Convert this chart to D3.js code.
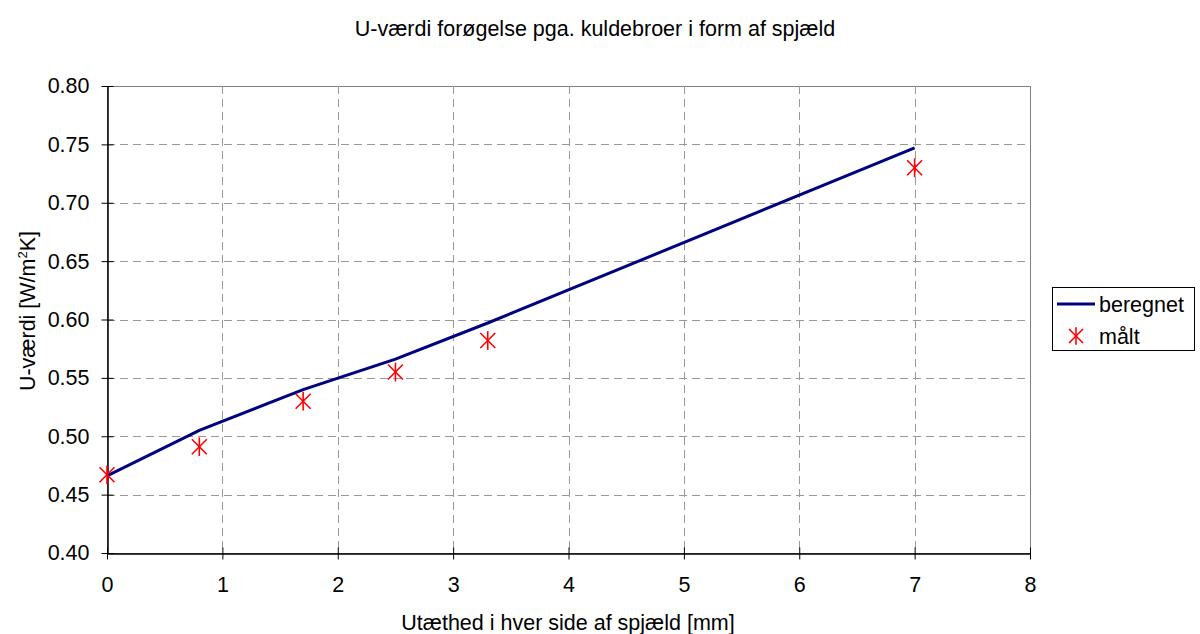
<!DOCTYPE html>
<html>
<head>
<meta charset="utf-8">
<script src="https://cdn.jsdelivr.net/npm/d3@7"></script>
<style>
  html, body { margin: 0; padding: 0; background: #fff; }
  svg { display: block; font-family: "Liberation Sans", Arial, sans-serif; }
</style>
</head>
<body>
<svg id="chart" width="1200" height="634"></svg>
<script>
// Gap width on each side of the damper [mm]
const gapMm = [0, 0.8, 1.7, 2.5, 3.3, 7];
// Calculated U-value [W/m²K]
const calculated = [0.466, 0.505, 0.540, 0.566, 0.597, 0.747];
// Measured U-value [W/m²K]
const measured = [0.467, 0.491, 0.530, 0.555, 0.582, 0.730];
const xTicks = [0, 1, 2, 3, 4, 5, 6, 7, 8];
const yTicks = [0.40, 0.45, 0.50, 0.55, 0.60, 0.65, 0.70, 0.75, 0.80];

const svg = d3.select("#chart");
const plotL = 107, plotR = 1030, plotT = 86, plotB = 553;
const fs = 21.5;

const x = d3.scaleLinear().domain([0, 8]).range([plotL, plotR]);
const y = d3.scaleLinear().domain([0.40, 0.80]).range([plotB, plotT]);

// Title
svg.append("text")
  .attr("x", 595).attr("y", 36)
  .attr("text-anchor", "middle")
  .attr("font-size", fs)
  .attr("fill", "#000")
  .text("U-værdi forøgelse pga. kuldebroer i form af spjæld");

// Plot frame (top and right edges)
svg.append("rect")
  .attr("x", plotL + 0.5).attr("y", plotT + 0.5)
  .attr("width", plotR - plotL).attr("height", plotB - plotT)
  .attr("fill", "#fff").attr("stroke", "#808080").attr("stroke-width", 1);

// Dashed grid
const grid = svg.append("g").attr("stroke", "#999").attr("stroke-width", 1)
  .attr("stroke-dasharray", "8,5").attr("fill", "none");
grid.selectAll("line.gy").data(yTicks.slice(1, -1)).join("line")
  .attr("x1", plotL).attr("x2", plotR)
  .attr("y1", d => Math.round(y(d)) + 0.5).attr("y2", d => Math.round(y(d)) + 0.5);
grid.selectAll("line.gx").data(xTicks.slice(1, -1)).join("line")
  .attr("y1", plotT).attr("y2", plotB)
  .attr("x1", d => Math.round(x(d)) + 0.5).attr("x2", d => Math.round(x(d)) + 0.5);

// Axes with ticks crossing the axis line
const xAxis = svg.append("g").attr("transform", `translate(0,${plotB + 0.5})`)
  .call(d3.axisBottom(x).tickValues(xTicks).tickFormat(d3.format("d")).tickSize(6).tickSizeOuter(0));
xAxis.selectAll(".tick line").attr("y1", -6).attr("y2", 6).attr("stroke", "#000");
xAxis.select(".domain").attr("stroke", "#000").attr("stroke-width", 1.5);
xAxis.selectAll(".tick text").attr("y", 23).attr("font-size", fs)
  .attr("font-family", "Liberation Sans, Arial, sans-serif").attr("fill", "#000");

const yAxis = svg.append("g").attr("transform", `translate(${plotL + 0.5},0)`)
  .call(d3.axisLeft(y).tickValues(yTicks).tickFormat(d3.format(".2f")).tickSize(6).tickSizeOuter(0));
yAxis.selectAll(".tick line").attr("x1", -6).attr("x2", 6).attr("stroke", "#000");
yAxis.select(".domain").attr("stroke", "#000").attr("stroke-width", 1.5);
yAxis.selectAll(".tick text").attr("x", -18).attr("font-size", fs)
  .attr("font-family", "Liberation Sans, Arial, sans-serif").attr("fill", "#000");

// Axis titles
svg.append("text")
  .attr("x", 568).attr("y", 630)
  .attr("text-anchor", "middle").attr("font-size", fs)
  .text("Utæthed i hver side af spjæld [mm]");

const yt = svg.append("text")
  .attr("transform", "translate(35,311) rotate(-90)")
  .attr("text-anchor", "middle").attr("font-size", fs);
yt.append("tspan").text("U-værdi [W/m");
yt.append("tspan").attr("font-size", 13).attr("dy", -8).text("2");
yt.append("tspan").attr("dy", 8).text("K]");

// Calculated line
const line = d3.line().x((d, i) => x(gapMm[i])).y(d => y(d));
svg.append("path").datum(calculated)
  .attr("d", line).attr("fill", "none")
  .attr("stroke", "#000080").attr("stroke-width", 3);

// Asterisk marker
function asterisk(g, cx, cy, r) {
  g.append("line").attr("x1", cx - r).attr("y1", cy - r).attr("x2", cx + r).attr("y2", cy + r);
  g.append("line").attr("x1", cx - r).attr("y1", cy + r).attr("x2", cx + r).attr("y2", cy - r);
  g.append("line").attr("x1", cx).attr("y1", cy - r * 1.25).attr("x2", cx).attr("y2", cy + r * 1.25);
}
const marks = svg.append("g").attr("stroke", "#ff0000").attr("stroke-width", 1.6);
measured.forEach((v, i) => asterisk(marks, x(gapMm[i]), y(v), 7.5));

// Legend
const lg = svg.append("g");
lg.append("rect").attr("x", 1052.5).attr("y", 287.5).attr("width", 142).attr("height", 63)
  .attr("fill", "#fff").attr("stroke", "#000").attr("stroke-width", 1);
lg.append("line").attr("x1", 1057).attr("x2", 1095).attr("y1", 304).attr("y2", 304)
  .attr("stroke", "#000080").attr("stroke-width", 3);
lg.append("text").attr("x", 1099).attr("y", 312).attr("font-size", fs).text("beregnet");
const lgm = lg.append("g").attr("stroke", "#ff0000").attr("stroke-width", 1.6);
asterisk(lgm, 1076, 336, 7);
lg.append("text").attr("x", 1099).attr("y", 344).attr("font-size", fs).text("målt");
</script>
</body>
</html>
